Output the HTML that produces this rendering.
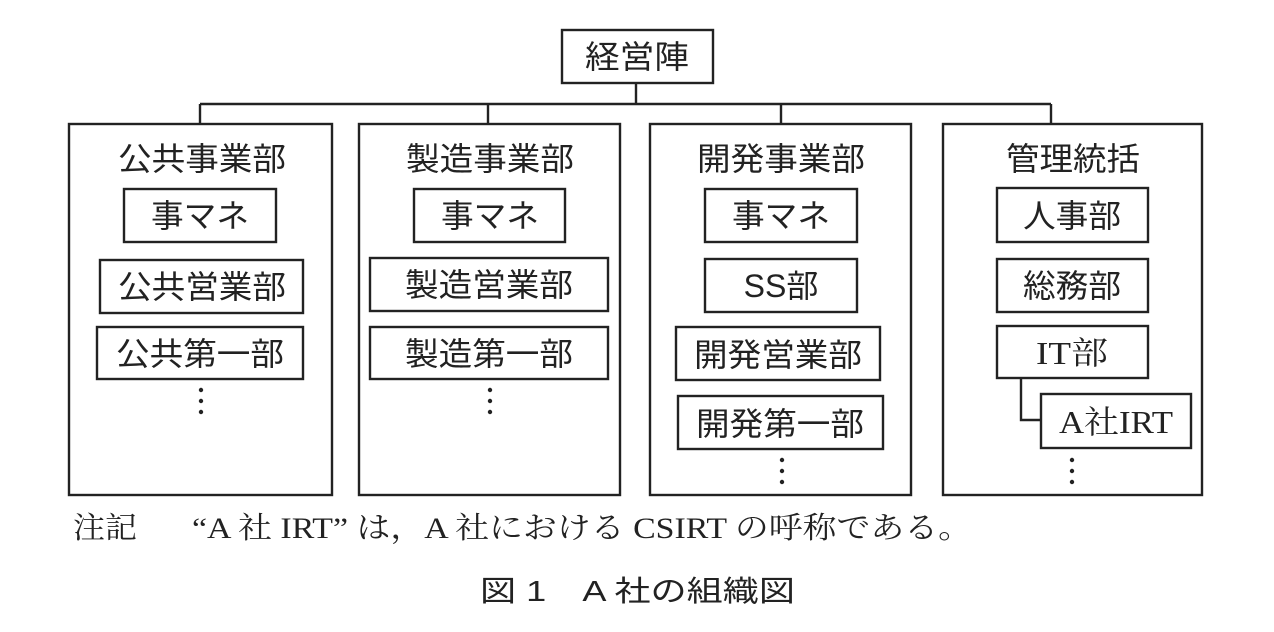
<!DOCTYPE html>
<html><head><meta charset="utf-8"><style>
html,body{margin:0;padding:0;background:#fff;}
svg{display:block;}
.g{font-family:"Liberation Sans","Noto Sans CJK JP",sans-serif;fill:#222;}
.s{font-family:"Liberation Serif","Noto Serif CJK SC","Noto Sans CJK JP",serif;fill:#222;}
</style></head><body>
<svg width="1274" height="632" viewBox="0 0 1274 632" xmlns="http://www.w3.org/2000/svg">
<g fill="none" stroke="#222" stroke-width="2.4">
<rect x="562" y="30" width="151" height="53"/>
<line x1="636" y1="83" x2="636" y2="104"/>
<line x1="200" y1="104" x2="1051" y2="104"/>
<line x1="200" y1="104" x2="200" y2="124"/>
<line x1="488" y1="104" x2="488" y2="124"/>
<line x1="781" y1="104" x2="781" y2="124"/>
<line x1="1051" y1="104" x2="1051" y2="124"/>
<rect x="69" y="124" width="263" height="371"/>
<rect x="359" y="124" width="261" height="371"/>
<rect x="650" y="124" width="261" height="371"/>
<rect x="943" y="124" width="259" height="371"/>
<rect x="124" y="189" width="152" height="53"/>
<rect x="100" y="260" width="203" height="53"/>
<rect x="97" y="327" width="206" height="52"/>
<rect x="414" y="189" width="151" height="53"/>
<rect x="370" y="258" width="238" height="53"/>
<rect x="370" y="327" width="238" height="52"/>
<rect x="705" y="189" width="152" height="53"/>
<rect x="705" y="259" width="152" height="53"/>
<rect x="676" y="327" width="204" height="53"/>
<rect x="678" y="396" width="205" height="53"/>
<rect x="997" y="188" width="151" height="54"/>
<rect x="997" y="259" width="151" height="53"/>
<rect x="997" y="326" width="151" height="52"/>
<polyline points="1021,378 1021,420 1041,420"/>
<rect x="1041" y="394" width="150" height="54"/>
</g>
<g fill="#222">
<circle cx="201" cy="390" r="2.2"/><circle cx="201" cy="401" r="2.2"/><circle cx="201" cy="412" r="2.2"/>
<circle cx="490" cy="390" r="2.2"/><circle cx="490" cy="401" r="2.2"/><circle cx="490" cy="412" r="2.2"/>
<circle cx="782" cy="460" r="2.2"/><circle cx="782" cy="471" r="2.2"/><circle cx="782" cy="482" r="2.2"/>
<circle cx="1072" cy="460" r="2.2"/><circle cx="1072" cy="471" r="2.2"/><circle cx="1072" cy="482" r="2.2"/>
</g>
<g class="g" font-size="32" text-anchor="middle">
<text x="637" y="68" textLength="104" lengthAdjust="spacingAndGlyphs">経営陣</text>
<text x="202" y="170" textLength="168" lengthAdjust="spacingAndGlyphs">公共事業部</text>
<text x="490" y="170" textLength="168" lengthAdjust="spacingAndGlyphs">製造事業部</text>
<text x="781" y="170" textLength="168" lengthAdjust="spacingAndGlyphs">開発事業部</text>
<text x="1073" y="170" textLength="134" lengthAdjust="spacingAndGlyphs">管理統括</text>
<text x="200" y="227" textLength="98" lengthAdjust="spacingAndGlyphs">事マネ</text>
<text x="202" y="298" textLength="168" lengthAdjust="spacingAndGlyphs">公共営業部</text>
<text x="200" y="365" textLength="168" lengthAdjust="spacingAndGlyphs">公共第一部</text>
<text x="490" y="227" textLength="98" lengthAdjust="spacingAndGlyphs">事マネ</text>
<text x="489" y="296" textLength="168" lengthAdjust="spacingAndGlyphs">製造営業部</text>
<text x="489" y="365" textLength="168" lengthAdjust="spacingAndGlyphs">製造第一部</text>
<text x="781" y="227" textLength="98" lengthAdjust="spacingAndGlyphs">事マネ</text>
<text x="781" y="297">SS部</text>
<text x="778" y="366" textLength="168" lengthAdjust="spacingAndGlyphs">開発営業部</text>
<text x="780" y="435" textLength="168" lengthAdjust="spacingAndGlyphs">開発第一部</text>
<text x="1072" y="227" textLength="98" lengthAdjust="spacingAndGlyphs">人事部</text>
<text x="1072" y="297" textLength="98" lengthAdjust="spacingAndGlyphs">総務部</text>
</g>
<g class="s" font-size="32" text-anchor="middle">
<text x="1072" y="364" textLength="72" lengthAdjust="spacingAndGlyphs">IT部</text>
<text x="1116" y="433" textLength="114" lengthAdjust="spacingAndGlyphs">A社IRT</text>
</g>
<text class="s" x="73" y="538" font-size="30" textLength="64" lengthAdjust="spacingAndGlyphs">注記</text>
<text class="s" x="192" y="538" font-size="30" textLength="780" lengthAdjust="spacingAndGlyphs">“A 社 IRT” は，A 社における CSIRT の呼称である。</text>
<text class="g" x="480" y="601" font-size="29" textLength="315" lengthAdjust="spacingAndGlyphs">図 1　A 社の組織図</text>
</svg>
</body></html>
